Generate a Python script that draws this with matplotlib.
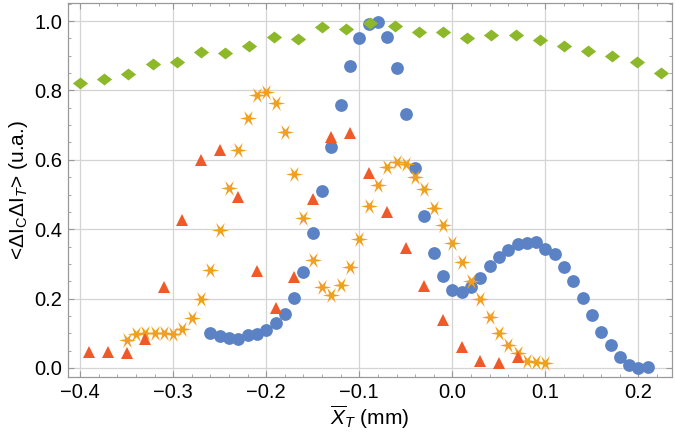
import numpy as np
import matplotlib
matplotlib.use("Agg")
import matplotlib.pyplot as plt
from matplotlib.path import Path
from matplotlib.ticker import MultipleLocator

plt.rcParams['font.family'] = ['Liberation Sans', 'DejaVu Sans']
plt.rcParams['mathtext.fontset'] = 'custom'
plt.rcParams['mathtext.rm'] = 'Liberation Sans'
plt.rcParams['mathtext.it'] = 'Liberation Sans:italic'
plt.rcParams['mathtext.bf'] = 'Liberation Sans:bold'

# ---- data ----
blue_x = [-0.26, -0.25, -0.24, -0.23, -0.22, -0.21, -0.20, -0.19, -0.18, -0.17,
          -0.16, -0.15, -0.14, -0.13, -0.12, -0.11, -0.10, -0.09, -0.08, -0.07,
          -0.06, -0.05, -0.04, -0.03, -0.02, -0.01, 0.00, 0.01, 0.02, 0.03,
          0.04, 0.05, 0.06, 0.07, 0.08, 0.09, 0.10, 0.11, 0.12, 0.13,
          0.14, 0.15, 0.16, 0.17, 0.18, 0.19, 0.20, 0.21]
blue_y = [0.102, 0.092, 0.087, 0.084, 0.095, 0.098, 0.109, 0.129, 0.157, 0.203,
          0.276, 0.388, 0.510, 0.637, 0.758, 0.869, 0.950, 0.992, 0.996, 0.953,
          0.865, 0.731, 0.575, 0.438, 0.332, 0.266, 0.224, 0.218, 0.232, 0.258,
          0.294, 0.321, 0.341, 0.357, 0.361, 0.364, 0.342, 0.328, 0.291, 0.250,
          0.201, 0.152, 0.105, 0.066, 0.031, 0.009, 0.000, 0.002]

orange_x = [-0.35, -0.34, -0.33, -0.32, -0.31, -0.30, -0.29, -0.28, -0.27, -0.26,
            -0.25, -0.24, -0.23, -0.22, -0.21, -0.20, -0.19, -0.18, -0.17, -0.16,
            -0.15, -0.14, -0.13, -0.12, -0.11, -0.10, -0.09, -0.08, -0.07, -0.06,
            -0.05, -0.04, -0.03, -0.02, -0.01, 0.00, 0.01, 0.02, 0.03, 0.04,
            0.05, 0.06, 0.07, 0.08, 0.09, 0.10]
orange_y = [0.081, 0.098, 0.100, 0.100, 0.100, 0.098, 0.112, 0.143, 0.200, 0.282,
            0.397, 0.519, 0.629, 0.721, 0.788, 0.795, 0.764, 0.680, 0.558, 0.431,
            0.311, 0.234, 0.210, 0.239, 0.292, 0.373, 0.466, 0.527, 0.579, 0.594,
            0.589, 0.551, 0.517, 0.460, 0.412, 0.359, 0.306, 0.251, 0.200, 0.148,
            0.102, 0.066, 0.042, 0.020, 0.016, 0.013]

red_x = [-0.39, -0.37, -0.35, -0.33, -0.31, -0.29, -0.27, -0.25, -0.23, -0.21,
         -0.19, -0.17, -0.15, -0.13, -0.11, -0.09, -0.07, -0.05, -0.03, -0.01,
         0.01, 0.03, 0.05, 0.07]
red_y = [0.047, 0.045, 0.042, 0.083, 0.234, 0.426, 0.599, 0.627, 0.493, 0.280,
         0.172, 0.263, 0.488, 0.666, 0.677, 0.563, 0.450, 0.346, 0.236, 0.138,
         0.061, 0.020, 0.015, 0.033]

green_x = [-0.400, -0.374, -0.348, -0.322, -0.296, -0.270, -0.244, -0.218, -0.192,
           -0.166, -0.140, -0.114, -0.088, -0.062, -0.036, -0.010, 0.016, 0.042,
           0.068, 0.094, 0.120, 0.146, 0.172, 0.198, 0.224]
green_y = [0.821, 0.832, 0.846, 0.877, 0.883, 0.911, 0.909, 0.929, 0.955, 0.949,
           0.984, 0.976, 0.995, 0.986, 0.967, 0.967, 0.950, 0.960, 0.959, 0.945,
           0.928, 0.914, 0.900, 0.883, 0.851]

x_ticks = [-0.4, -0.3, -0.2, -0.1, 0.0, 0.1, 0.2]
y_ticks = [0.0, 0.2, 0.4, 0.6, 0.8, 1.0]

# ---- styles ----
c_blue = '#5B82C4'
c_orange = '#F0A020'
c_red = '#F05A28'
c_green = '#8CB829'

# custom marker shapes
star_path = Path.unit_regular_star(6, 0.3)
star_path = Path(star_path.vertices @ np.array([[0, 1], [1, 0]]), star_path.codes)  # rotate so an arm points up
flat_diamond = Path([(-1.0, 0.0), (0.0, 0.78), (1.0, 0.0), (0.0, -0.78), (-1.0, 0.0)],
                    [Path.MOVETO, Path.LINETO, Path.LINETO, Path.LINETO, Path.CLOSEPOLY])

fig = plt.figure(figsize=(6.75, 4.43), dpi=100)
ax = fig.add_axes([68/675, 1-377/443, (672-68)/675, (377-3)/443])

ax.plot(blue_x, blue_y, linestyle='none', marker='o', markersize=9.2,
        color=c_blue, markeredgewidth=0, zorder=3)
ax.plot(orange_x, orange_y, linestyle='none', marker=star_path, markersize=12.5,
        color=c_orange, markeredgewidth=0, zorder=4)
ax.plot(red_x, red_y, linestyle='none', marker='^', markersize=8.5,
        color=c_red, markeredgewidth=0, zorder=5)
ax.plot(green_x, green_y, linestyle='none', marker=flat_diamond, markersize=11,
        color=c_green, markeredgewidth=0, zorder=6)

ax.set_xlim(-0.413, 0.236)
ax.set_ylim(-0.026, 1.052)
ax.set_xticks(x_ticks)
ax.set_yticks(y_ticks)
ax.set_xticklabels([f"{t:.1f}".replace('-', '\u2212') for t in x_ticks])
ax.set_yticklabels([f"{t:.1f}" for t in y_ticks])
ax.xaxis.set_minor_locator(MultipleLocator(0.02))
ax.yaxis.set_minor_locator(MultipleLocator(0.05))

ax.grid(True, which='major', color='#d4d4d4', linewidth=0.9, zorder=0)
ax.set_axisbelow(True)
for s in ax.spines.values():
    s.set_color('#999999')
    s.set_linewidth(0.9)
ax.tick_params(which='both', direction='in', colors='#999999', labelcolor='black',
               labelsize=14.5, top=True, right=True)
ax.tick_params(which='major', length=4, width=0.8, pad=4)
ax.tick_params(which='minor', length=2, width=0.6)

ax.set_xlabel(r'$\overline{X}_{T}$ (mm)', fontsize=15, labelpad=2)
ax.set_ylabel(r'<$\Delta$I$_{\rm C}$$\Delta$I$_{T}$> (u.a.)', fontsize=15, labelpad=3)

fig.savefig('out.png', dpi=100)
